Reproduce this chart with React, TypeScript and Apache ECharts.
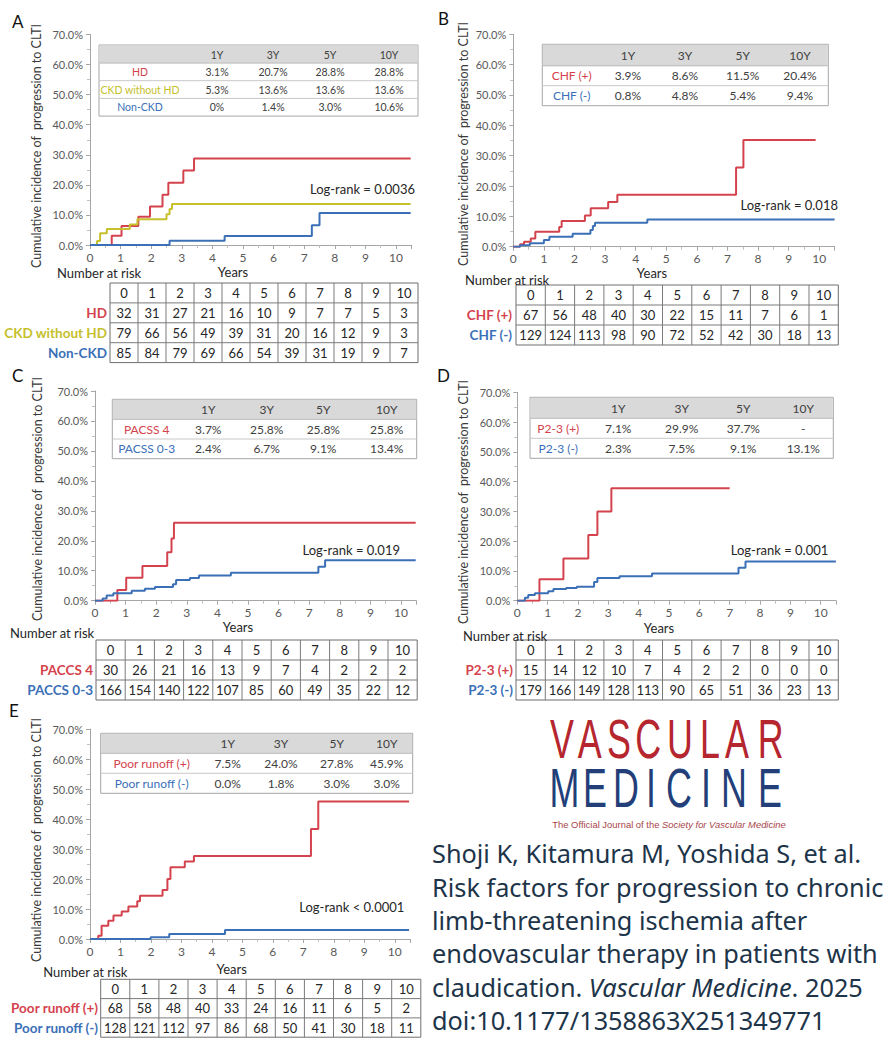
import React, { useEffect, useRef } from "react";
import * as echarts from "echarts";

const YEARS = [0, 1, 2, 3, 4, 5, 6, 7, 8, 9, 10];
const INSET_COLS = ["1Y", "3Y", "5Y", "10Y"];
const Y_TITLE = "Cumulative incidence of  progression to CLTI";

const RED = "#d4434d";
const BLUE = "#3b70b7";
const YELLOW = "#c5c02c";

// ---- Panel A ----
const A_INSET_LABELS = ["HD", "CKD without HD", "Non-CKD"];
const A_INSET = [
  ["3.1%", "20.7%", "28.8%", "28.8%"],
  ["5.3%", "13.6%", "13.6%", "13.6%"],
  ["0%", "1.4%", "3.0%", "10.6%"],
];
const A_RISK_LABELS = ["HD", "CKD without HD", "Non-CKD"];
const A_RISK = [
  [32, 31, 27, 21, 16, 10, 9, 7, 7, 5, 3],
  [79, 66, 56, 49, 39, 31, 20, 16, 12, 9, 3],
  [85, 84, 79, 69, 66, 54, 39, 31, 19, 9, 7],
];
const A_HD = [[0, 0], [0.71, 3.1], [1.03, 6.3], [1.58, 9.4], [1.96, 12.8], [2.37, 16.7], [2.56, 20.7], [3.05, 24.8], [3.4, 28.8], [10.48, 28.8]];
const A_CKD = [[0, 0], [0.23, 1.3], [0.33, 3.9], [0.55, 5.3], [1.3, 6.8], [1.55, 8.6], [2.5, 10.2], [2.6, 12.0], [2.68, 13.6], [10.48, 13.6]];
const A_NONCKD = [[0, 0], [2.6, 1.4], [4.4, 3.0], [7.25, 6.6], [7.5, 10.6], [10.48, 10.6]];
const A_LOGRANK = "Log-rank = 0.0036";

// ---- Panel B ----
const B_INSET_LABELS = ["CHF (+)", "CHF (-)"];
const B_INSET = [
  ["3.9%", "8.6%", "11.5%", "20.4%"],
  ["0.8%", "4.8%", "5.4%", "9.4%"],
];
const B_RISK_LABELS = ["CHF (+)", "CHF (-)"];
const B_RISK = [
  [67, 56, 48, 40, 30, 22, 15, 11, 7, 6, 1],
  [129, 124, 113, 98, 90, 72, 52, 42, 30, 18, 13],
];
const B_POS = [[0, 0], [0.22, 0.8], [0.35, 1.6], [0.57, 2.7], [0.72, 4.9], [1.5, 6.5], [1.58, 8.5], [2.34, 10.3], [2.53, 12.7], [3.1, 14.7], [3.4, 17.1], [7.28, 26.1], [7.52, 35.2], [9.88, 35.2]];
const B_NEG = [[0, 0], [0.22, 0.5], [0.54, 1.1], [1.0, 2.2], [1.18, 3.3], [1.94, 4.3], [2.52, 5.5], [2.6, 6.8], [2.67, 7.9], [4.38, 9.0], [10.5, 9.0]];
const B_LOGRANK = "Log-rank = 0.018";

// ---- Panel C ----
const C_INSET_LABELS = ["PACSS 4", "PACSS 0-3"];
const C_INSET = [
  ["3.7%", "25.8%", "25.8%", "25.8%"],
  ["2.4%", "6.7%", "9.1%", "13.4%"],
];
const C_RISK_LABELS = ["PACCS 4", "PACCS 0-3"];
const C_RISK = [
  [30, 26, 21, 16, 13, 9, 7, 4, 2, 2, 2],
  [166, 154, 140, 122, 107, 85, 60, 49, 35, 22, 12],
];
const C_POS = [[0, 0], [0.73, 3.6], [1.02, 7.7], [1.55, 11.6], [2.36, 16.2], [2.5, 20.8], [2.58, 26.0], [10.48, 26.0]];
const C_NEG = [[0, 0], [0.25, 0.7], [0.38, 1.7], [0.6, 2.5], [1.2, 3.3], [1.63, 4.0], [1.96, 4.6], [2.55, 5.5], [2.65, 6.9], [3.1, 7.6], [3.4, 8.4], [4.44, 9.3], [7.3, 11.3], [7.52, 13.5], [10.48, 13.5]];
const C_LOGRANK = "Log-rank = 0.019";

// ---- Panel D ----
const D_INSET_LABELS = ["P2-3 (+)", "P2-3 (-)"];
const D_INSET = [
  ["7.1%", "29.9%", "37.7%", "-"],
  ["2.3%", "7.5%", "9.1%", "13.1%"],
];
const D_RISK_LABELS = ["P2-3 (+)", "P2-3 (-)"];
const D_RISK = [
  [15, 14, 12, 10, 7, 4, 2, 2, 0, 0, 0],
  [179, 166, 149, 128, 113, 90, 65, 51, 36, 23, 13],
];
const D_POS = [[0, 0], [0.73, 7.2], [1.52, 14.2], [2.34, 22.1], [2.64, 30.0], [3.1, 37.8], [7.0, 37.8]];
const D_NEG = [[0, 0], [0.25, 1.0], [0.36, 1.9], [0.58, 2.5], [1.02, 3.2], [1.19, 3.9], [1.61, 4.3], [1.96, 4.7], [2.53, 6.3], [2.64, 7.6], [3.37, 8.2], [4.44, 9.1], [7.29, 11.1], [7.52, 13.2], [10.5, 13.2]];
const D_LOGRANK = "Log-rank = 0.001";

// ---- Panel E ----
const E_INSET_LABELS = ["Poor runoff (+)", "Poor runoff (-)"];
const E_INSET = [
  ["7.5%", "24.0%", "27.8%", "45.9%"],
  ["0.0%", "1.8%", "3.0%", "3.0%"],
];
const E_RISK_LABELS = ["Poor runoff (+)", "Poor runoff (-)"];
const E_RISK = [
  [68, 58, 48, 40, 33, 24, 16, 11, 6, 5, 2],
  [128, 121, 112, 97, 86, 68, 50, 41, 30, 18, 11],
];
const E_POS = [[0, 0], [0.27, 1.1], [0.38, 4.4], [0.6, 6.1], [0.77, 7.8], [1.04, 9.2], [1.26, 10.8], [1.55, 12.6], [1.64, 14.4], [2.38, 16.3], [2.54, 20.0], [2.64, 23.9], [3.11, 25.8], [3.41, 27.7], [7.25, 36.7], [7.49, 45.8], [10.47, 45.8]];
const E_NEG = [[0, 0], [1.99, 0.6], [2.6, 1.7], [4.43, 3.0], [10.47, 3.0]];
const E_LOGRANK = "Log-rank < 0.0001";

// ---- Journal / citation ----
const LOGO_TOP = "VASCULAR";
const LOGO_BOTTOM = "MEDICINE";
const TAGLINE_A = "The Official Journal of the ";
const TAGLINE_B = "Society for Vascular Medicine";
const CITATION = [
  "Shoji K, Kitamura M, Yoshida S, et al.",
  "Risk factors for progression to chronic",
  "limb-threatening ischemia after",
  "endovascular therapy in patients with",
];
const CITATION_L5 = ["claudication. ", "Vascular Medicine", ". 2025"];
const CITATION_L6 = "doi:10.1177/1358863X251349771";

const PANELS = [
  { letter: "A", insetLabels: A_INSET_LABELS, inset: A_INSET, riskLabels: A_RISK_LABELS, risk: A_RISK, colors: [RED, YELLOW, BLUE], curves: [A_HD, A_CKD, A_NONCKD], logrank: A_LOGRANK },
  { letter: "B", insetLabels: B_INSET_LABELS, inset: B_INSET, riskLabels: B_RISK_LABELS, risk: B_RISK, colors: [RED, BLUE], curves: [B_POS, B_NEG], logrank: B_LOGRANK },
  { letter: "C", insetLabels: C_INSET_LABELS, inset: C_INSET, riskLabels: C_RISK_LABELS, risk: C_RISK, colors: [RED, BLUE], curves: [C_POS, C_NEG], logrank: C_LOGRANK },
  { letter: "D", insetLabels: D_INSET_LABELS, inset: D_INSET, riskLabels: D_RISK_LABELS, risk: D_RISK, colors: [RED, BLUE], curves: [D_POS, D_NEG], logrank: D_LOGRANK },
  { letter: "E", insetLabels: E_INSET_LABELS, inset: E_INSET, riskLabels: E_RISK_LABELS, risk: E_RISK, colors: [RED, BLUE], curves: [E_POS, E_NEG], logrank: E_LOGRANK },
];

const LAYOUT = [
  {
    letter: { x: 12, y: 21 },
    grid: { left: 90, top: 34.5, width: 321.3, height: 210.5 },
    yTitle: { x: 36, y: 146 },
    inset: { left: 99, top: 45, width: 319, headerH: 18, rowH: 17.7, cols: [140, 217, 273, 330, 389], fs: 10.5 },
    logrank: { x: 415, y: 189 },
    years: { x: 233, y: 272 },
    nar: { x: 57, y: 273 },
    risk: { left: 110, top: 283, colW: 28, rowH: 19.9, labelRight: 107 },
  },
  {
    letter: { x: 438, y: 18 },
    grid: { left: 513.3, top: 34.3, width: 321.3, height: 212.4 },
    yTitle: { x: 463, y: 144 },
    inset: { left: 542.3, top: 44.3, width: 286, headerH: 21.4, rowH: 20, cols: [571.7, 628, 685, 742.7, 800], fs: 12 },
    logrank: { x: 838, y: 205 },
    years: { x: 652, y: 273 },
    nar: { x: 465, y: 280 },
    risk: { left: 516, top: 285, colW: 29.3, rowH: 20, labelRight: 512 },
  },
  {
    letter: { x: 12, y: 375 },
    grid: { left: 95, top: 391, width: 321.3, height: 209.7 },
    yTitle: { x: 37, y: 499 },
    inset: { left: 112.3, top: 399.3, width: 304.4, headerH: 20, rowH: 19.7, cols: [146.7, 208.3, 266.7, 323.3, 386.7], fs: 12 },
    logrank: { x: 400, y: 550 },
    years: { x: 238, y: 627 },
    nar: { x: 10, y: 633 },
    risk: { left: 96, top: 640, colW: 29.2, rowH: 20, labelRight: 93 },
  },
  {
    letter: { x: 437, y: 375.5 },
    grid: { left: 517.3, top: 392.3, width: 318.6, height: 208.4 },
    yTitle: { x: 463, y: 502 },
    inset: { left: 530, top: 397.3, width: 303.3, headerH: 21, rowH: 20, cols: [558.3, 618.3, 681.7, 743.3, 803.3], fs: 12 },
    logrank: { x: 828.3, y: 550 },
    years: { x: 659, y: 628 },
    nar: { x: 463, y: 636 },
    risk: { left: 516, top: 640, colW: 29.3, rowH: 20, labelRight: 513 },
  },
  {
    letter: { x: 9, y: 710 },
    grid: { left: 90, top: 729, width: 320, height: 210 },
    yTitle: { x: 36.7, y: 840 },
    inset: { left: 100.7, top: 733.3, width: 312, headerH: 20, rowH: 20, cols: [151.7, 227.7, 281, 336.7, 386.7], fs: 12 },
    logrank: { x: 404.3, y: 906.7 },
    years: { x: 231.7, y: 969 },
    nar: { x: 43.3, y: 972 },
    risk: { left: 100.7, top: 979.3, colW: 29.1, rowH: 19.3, labelRight: 98 },
  },
];

const FONT = "Lato, 'Liberation Sans', sans-serif";

function txt(x: number, y: number, text: string, o: any = {}) {
  return {
    type: "text",
    x,
    y,
    rotation: o.rot || 0,
    scaleX: o.scaleX || 1,
    silent: true,
    z: 10,
    style: {
      text,
      fill: o.color || "#404040",
      fontSize: o.fs || 12,
      fontFamily: o.ff || FONT,
      fontWeight: o.fw || "normal",
      fontStyle: o.fst || "normal",
      align: o.align || "center",
      verticalAlign: o.va || "middle",
      rich: o.rich,
    },
  };
}

function ln(x1: number, y1: number, x2: number, y2: number, stroke: string, lw = 1) {
  return { type: "line", silent: true, z: 9, shape: { x1, y1, x2, y2 }, style: { stroke, lineWidth: lw } };
}

function rect(x: number, y: number, w: number, h: number, fill: string, stroke?: string) {
  return { type: "rect", silent: true, z: 8, shape: { x, y, width: w, height: h }, style: { fill, stroke: stroke || null, lineWidth: stroke ? 1 : 0 } };
}

function insetTable(I: any, labels: string[], colors: string[], rows: string[][]) {
  const els: any[] = [];
  const h = I.headerH + I.rowH * rows.length;
  els.push(rect(I.left, I.top, I.width, h, "#ffffff", "#a6a6a6"));
  els.push(rect(I.left + 0.5, I.top + 0.5, I.width - 1, I.headerH, "#d9d9d9"));
  els.push(ln(I.left, I.top + I.headerH, I.left + I.width, I.top + I.headerH, "#bfbfbf"));
  for (let r = 1; r < rows.length; r++) {
    const y = I.top + I.headerH + r * I.rowH;
    els.push(ln(I.left, y, I.left + I.width, y, "#c8c8c8"));
  }
  INSET_COLS.forEach((c, j) => els.push(txt(I.cols[j + 1], I.top + I.headerH / 2 + 0.5, c, { fs: I.fs, color: "#404040" })));
  rows.forEach((row, r) => {
    const y = I.top + I.headerH + (r + 0.5) * I.rowH;
    els.push(txt(I.cols[0], y, labels[r], { fs: I.fs, color: colors[r] }));
    row.forEach((v, j) => els.push(txt(I.cols[j + 1], y, v, { fs: I.fs, color: "#404040" })));
  });
  return els;
}

function riskTable(R: any, labels: string[], colors: string[], rows: number[][]) {
  const els: any[] = [];
  const nR = rows.length + 1;
  const w = R.colW * YEARS.length;
  const h = R.rowH * nR;
  els.push(rect(R.left, R.top, w, h, "#ffffff", "#6f6f6f"));
  for (let c = 1; c < YEARS.length; c++) els.push(ln(R.left + c * R.colW, R.top, R.left + c * R.colW, R.top + h, "#7a7a7a"));
  for (let r = 1; r < nR; r++) els.push(ln(R.left, R.top + r * R.rowH, R.left + w, R.top + r * R.rowH, "#7a7a7a"));
  YEARS.forEach((yv, c) => els.push(txt(R.left + (c + 0.5) * R.colW, R.top + 0.5 * R.rowH, String(yv), { fs: 13, color: "#262626" })));
  rows.forEach((row, r) => {
    const y = R.top + (r + 1.5) * R.rowH;
    els.push(txt(R.labelRight, y, labels[r], { fs: 13.5, fw: "bold", color: colors[r], align: "right" }));
    row.forEach((v, c) => els.push(txt(R.left + (c + 0.5) * R.colW, y, String(v), { fs: 13, color: "#262626" })));
  });
  return els;
}

const LOGO_TOP_X = [562, 589.7, 619, 648.3, 680, 710, 737, 770.7];
const LOGO_BOTTOM_X = [564.5, 595, 626, 651, 679, 706, 734, 770];

function buildOption() {
  const grid: any[] = [];
  const xAxis: any[] = [];
  const yAxis: any[] = [];
  const series: any[] = [];
  const elements: any[] = [];

  PANELS.forEach((p, i) => {
    const L = LAYOUT[i];
    grid.push({ left: L.grid.left, top: L.grid.top, width: L.grid.width, height: L.grid.height, containLabel: false, outerBoundsMode: "none" });
    xAxis.push({
      type: "value",
      gridIndex: i,
      min: 0,
      max: 10.5,
      interval: 1,
      axisLine: { show: true, onZero: false, lineStyle: { color: "#a6a6a6", width: 1 } },
      axisTick: { show: true, length: 4, lineStyle: { color: "#a6a6a6" } },
      minorTick: { show: true, splitNumber: 2, length: 3, lineStyle: { color: "#bfbfbf" } },
      axisLabel: { color: "#595959", fontSize: 12, fontFamily: FONT, margin: 6, formatter: (v: number) => (Number.isInteger(v) ? String(v) : "") },
      splitLine: { show: false },
    });
    yAxis.push({
      type: "value",
      gridIndex: i,
      min: 0,
      max: 70,
      interval: 10,
      axisLine: { show: true, onZero: false, lineStyle: { color: "#a6a6a6", width: 1 } },
      axisTick: { show: true, length: 4, lineStyle: { color: "#a6a6a6" } },
      minorTick: { show: true, splitNumber: 2, length: 3, lineStyle: { color: "#bfbfbf" } },
      axisLabel: { color: "#595959", fontSize: 11, fontFamily: FONT, margin: 7, formatter: (v: number) => v.toFixed(1) + "%" },
      splitLine: { show: false },
    });
    p.curves.forEach((data, k) => {
      series.push({
        type: "line",
        xAxisIndex: i,
        yAxisIndex: i,
        data,
        step: "end",
        showSymbol: false,
        symbol: "none",
        silent: true,
        z: 3,
        lineStyle: { color: p.colors[k], width: 2 },
        itemStyle: { color: p.colors[k] },
      });
    });

    elements.push(txt(L.letter.x, L.letter.y, p.letter, { fs: 17, color: "#111111", align: "left" }));
    elements.push(txt(L.yTitle.x, L.yTitle.y, Y_TITLE, { fs: 12.5, color: "#3a3a3a", rot: Math.PI / 2 }));
    elements.push(...insetTable(L.inset, p.insetLabels, p.colors, p.inset));
    elements.push(txt(L.logrank.x, L.logrank.y, p.logrank, { fs: 13, color: "#262626", align: "right" }));
    elements.push(txt(L.years.x, L.years.y, "Years", { fs: 13, color: "#262626" }));
    elements.push(txt(L.nar.x, L.nar.y, "Number at risk", { fs: 13, color: "#262626", align: "left" }));
    elements.push(...riskTable(L.risk, p.riskLabels, p.colors, p.risk));
  });

  // Journal logo
  const LOGO_FONT = "'Liberation Sans', Arial, sans-serif";
  LOGO_TOP.split("").forEach((ch, k) =>
    elements.push(txt(LOGO_TOP_X[k], 738.3, ch, { fs: 56, ff: LOGO_FONT, color: "#b5262f", scaleX: 0.64 }))
  );
  LOGO_BOTTOM.split("").forEach((ch, k) =>
    elements.push(txt(LOGO_BOTTOM_X[k], 787.5, ch, { fs: 56, ff: LOGO_FONT, color: "#233f7a", scaleX: 0.64 }))
  );
  elements.push(
    txt(669, 825, `{a|${TAGLINE_A}}{b|${TAGLINE_B}}`, {
      fs: 8.2,
      ff: LOGO_FONT,
      color: "#a8444a",
      scaleX: 1.15,
      rich: {
        a: { fontSize: 8.2, fontFamily: LOGO_FONT, fill: "#a8444a", color: "#a8444a" },
        b: { fontSize: 8.2, fontFamily: LOGO_FONT, fontStyle: "italic", fill: "#a8444a", color: "#a8444a" },
      },
    })
  );

  // Citation
  const CIT_FONT = "'Noto Sans', 'Open Sans', sans-serif";
  const CIT_FS = 25.3;
  const citY = [853, 886.5, 919.5, 953, 986.7, 1020];
  CITATION.forEach((line, k) => elements.push(txt(432, citY[k], line, { fs: CIT_FS, ff: CIT_FONT, color: "#1d3449", align: "left" })));
  elements.push(
    txt(432, citY[4], `{a|${CITATION_L5[0]}}{b|${CITATION_L5[1]}}{a|${CITATION_L5[2]}}`, {
      fs: CIT_FS,
      ff: CIT_FONT,
      color: "#1d3449",
      align: "left",
      rich: {
        a: { fontSize: CIT_FS, fontFamily: CIT_FONT, fill: "#1d3449", color: "#1d3449" },
        b: { fontSize: CIT_FS, fontFamily: CIT_FONT, fontStyle: "italic", fill: "#1d3449", color: "#1d3449" },
      },
    })
  );
  elements.push(txt(432, citY[5], CITATION_L6, { fs: CIT_FS, ff: CIT_FONT, color: "#1d3449", align: "left" }));

  return {
    animation: false,
    backgroundColor: "#ffffff",
    grid,
    xAxis,
    yAxis,
    series,
    graphic: { elements },
  };
}

export default function App() {
  const ref = useRef<HTMLDivElement>(null);
  useEffect(() => {
    if (!ref.current) return;
    const chart = echarts.init(ref.current, null, { renderer: "svg", width: 896, height: 1044 });
    chart.setOption(buildOption() as any);
    return () => chart.dispose();
  }, []);
  return <div ref={ref} style={{ position: "absolute", left: 0, top: 0, width: 896, height: 1044, background: "#fff" }} />;
}
